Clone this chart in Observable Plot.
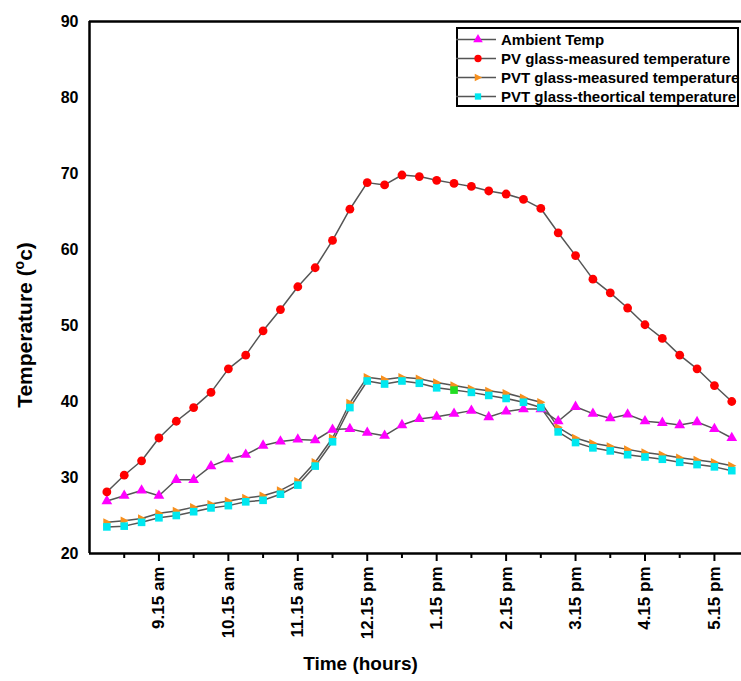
<!DOCTYPE html>
<html>
<head>
<meta charset="utf-8">
<script src="https://cdn.jsdelivr.net/npm/d3@7"></script>
<script src="https://cdn.jsdelivr.net/npm/@observablehq/plot@0.6"></script>
<style>
  html, body { margin: 0; padding: 0; background: #fff; overflow: hidden; }
  #wrap { position: relative; width: 741px; height: 681px; font-family: "Liberation Sans", Arial, sans-serif; }
  #legend { position: absolute; left: 456px; top: 27px; width: 283px; height: 80px; box-sizing: border-box;
            border: 2px solid #000; background: #fff; padding-top: 1px; }
  .row { display: flex; align-items: center; height: 19px; }
  .row svg { display: block; flex: none; margin-left: -2px; }
  .row span { font-weight: bold; font-size: 15px; white-space: nowrap; margin-left: 3px; color: #000; }
</style>
</head>
<body>
<div id="wrap"></div>
<script>
// ---- data ----
const times = ["8:30","8:45","9:00","9:15","9:30","9:45","10:00","10:15","10:30","10:45",
  "11:00","11:15","11:30","11:45","12:00","12:15","12:30","12:45","13:00","13:15",
  "13:30","13:45","14:00","14:15","14:30","14:45","15:00","15:15","15:30","15:45",
  "16:00","16:15","16:30","16:45","17:00","17:15","17:30"];
const ambientTemp = [26.9,27.6,28.3,27.6,29.7,29.7,31.5,32.4,33.0,34.2,34.75,35.0,34.9,36.3,36.4,
  35.9,35.5,36.9,37.7,38.0,38.4,38.8,37.95,38.7,39.0,39.0,37.4,39.3,38.4,37.8,38.3,37.4,37.2,36.9,37.3,36.4,35.2];
const pvMeasured = [28.1,30.3,32.2,35.2,37.4,39.2,41.2,44.3,46.1,49.3,52.1,55.1,57.6,61.2,65.3,
  68.8,68.5,69.8,69.6,69.1,68.7,68.3,67.7,67.3,66.6,65.4,62.2,59.2,56.1,54.3,52.3,50.1,48.3,46.1,44.3,42.1,40.0];
const pvtMeasured = [24.1,24.3,24.6,25.3,25.6,26.1,26.5,26.9,27.3,27.6,28.3,29.5,32.0,35.2,39.8,
  43.2,42.9,43.2,43.0,42.5,42.1,41.7,41.4,41.1,40.5,39.9,36.6,35.2,34.5,34.1,33.7,33.3,33.0,32.6,32.3,32.0,31.55];
const pvtTheoretical = [23.5,23.6,24.1,24.7,25.0,25.5,26.0,26.3,26.8,27.0,27.8,29.0,31.5,34.7,39.2,
  42.7,42.3,42.7,42.4,41.8,41.5,41.2,40.8,40.4,39.9,39.2,36.0,34.6,33.9,33.5,33.0,32.7,32.4,32.0,31.7,31.4,30.9];
const tickTimes = ["9:15","10:15","11:15","12:15","13:15","14:15","15:15","16:15","17:15"];
const tickLabels = ["9.15 am","10.15 am","11.15 am","12.15 pm","1.15 pm","2.15 pm","3.15 pm","4.15 pm","5.15 pm"];
const minorTickTimes = ["8:45","9:45","10:45","11:45","12:45","13:45","14:45","15:45","16:45"];
const yTicks = [20,30,40,50,60,70,80,90];
const seriesNames = ["Ambient Temp","PV glass-measured temperature","PVT glass-measured temperature","PVT glass-theortical temperature"];
const highlightTime = "13:30"; // one theoretical marker is drawn green in the original

// ---- helpers ----
const toHour = t => { const [h, m] = t.split(":").map(Number); return h + m / 60; };
const rows = times.map((t, i) => ({
  t, hour: toHour(t), ambient: ambientTemp[i], pv: pvMeasured[i], pvtM: pvtMeasured[i], pvtT: pvtTheoretical[i]
}));
const tickHours = tickTimes.map(toHour);
const minorHours = minorTickTimes.map(toHour);

const rightTriangle = {
  draw(context, size) {
    const r = Math.sqrt(size / Math.PI);
    context.moveTo(-r * 0.85, -r);
    context.lineTo(r * 1.1, 0);
    context.lineTo(-r * 0.85, r);
    context.closePath();
  }
};

const colors = { ambient: "#ff00ff", pv: "#ff0000", pvtM: "#f7901e", pvtT: "#00e8f0" };
const lineColor = "#555555";
const font = "Liberation Sans, Arial, sans-serif";

const x0 = 8.25, x1 = 17.64;

const plot = Plot.plot({
  width: 741,
  height: 681,
  marginLeft: 89,
  marginTop: 21,
  marginRight: 0,
  marginBottom: 128,
  x: { domain: [x0, x1] },
  y: { domain: [20, 90] },
  style: { fontFamily: font, background: "#fff", color: "#000" },
  marks: [
    Plot.axisY({ ticks: yTicks, tickSize: 0, tickPadding: 11, fontSize: 16, fontWeight: "bold", label: null }),
    Plot.axisX({ ticks: minorHours, tickSize: 5, tickFormat: () => "", label: null, strokeWidth: 2 }),
    Plot.axisX({ ticks: tickHours, tickSize: 8, tickPadding: 5, tickRotate: -90, strokeWidth: 2,
      tickFormat: d => tickLabels[tickHours.indexOf(d)], fontSize: 17, fontWeight: "bold", label: null }),
    Plot.ruleY([20], { stroke: "#000", strokeWidth: 2.5 }),
    Plot.ruleY([90], { stroke: "#000", strokeWidth: 2.5 }),
    Plot.ruleX([x0], { stroke: "#000", strokeWidth: 2.5 }),

    Plot.line(rows, { x: "hour", y: "ambient", stroke: lineColor, strokeWidth: 1.5 }),
    Plot.line(rows, { x: "hour", y: "pv", stroke: lineColor, strokeWidth: 1.5 }),
    Plot.line(rows, { x: "hour", y: "pvtM", stroke: lineColor, strokeWidth: 1.5 }),
    Plot.line(rows, { x: "hour", y: "pvtT", stroke: lineColor, strokeWidth: 1.5 }),

    Plot.dot(rows, { x: "hour", y: "ambient", symbol: "triangle", r: 4, fill: colors.ambient, stroke: "none" }),
    Plot.dot(rows, { x: "hour", y: "pv", symbol: "circle", r: 4.4, fill: colors.pv, stroke: "none" }),
    Plot.dot(rows, { x: "hour", y: "pvtM", symbol: rightTriangle, r: 4.2, fill: colors.pvtM, stroke: "none" }),
    Plot.dot(rows, { x: "hour", y: "pvtT", symbol: "square", r: 4.3,
      fill: d => d.t === highlightTime ? "#22dd22" : colors.pvtT, stroke: "none" }),

    Plot.text(["Time (hours)"], { frameAnchor: "bottom", dy: 116, dx: -55, fontSize: 19, fontWeight: "bold",
      fontFamily: font, fill: "#000" })
  ]
});

const wrap = document.getElementById("wrap");
wrap.appendChild(plot);

// y-axis title with superscript
const svg = d3.select(plot);
const yt = svg.append("text")
  .attr("transform", "translate(32,325) rotate(-90)")
  .attr("text-anchor", "middle")
  .attr("font-family", font)
  .attr("font-size", 21)
  .attr("font-weight", "bold")
  .attr("fill", "#000");
yt.append("tspan").text("Temperature (");
yt.append("tspan").attr("font-size", 14).attr("dy", -8).text("o");
yt.append("tspan").attr("dy", 8).text("c)");

// legend
const keys = ["ambient", "pv", "pvtM", "pvtT"];
const symbols = [d3.symbolTriangle, d3.symbolCircle, rightTriangle, d3.symbolSquare];
const sizes = [40, 42, 46, 40];
const legend = document.createElement("div");
legend.id = "legend";
seriesNames.forEach((name, i) => {
  const row = document.createElement("div");
  row.className = "row";
  const s = d3.create("svg").attr("width", 42).attr("height", 19);
  s.append("line").attr("x1", 0).attr("x2", 40).attr("y1", 9.5).attr("y2", 9.5)
    .attr("stroke", lineColor).attr("stroke-width", 1.4);
  s.append("path").attr("transform", "translate(22,9.5)")
    .attr("d", d3.symbol(symbols[i], sizes[i])()).attr("fill", colors[keys[i]]);
  row.appendChild(s.node());
  const sp = document.createElement("span");
  sp.textContent = name;
  row.appendChild(sp);
  legend.appendChild(row);
});
wrap.appendChild(legend);
</script>
</body>
</html>
